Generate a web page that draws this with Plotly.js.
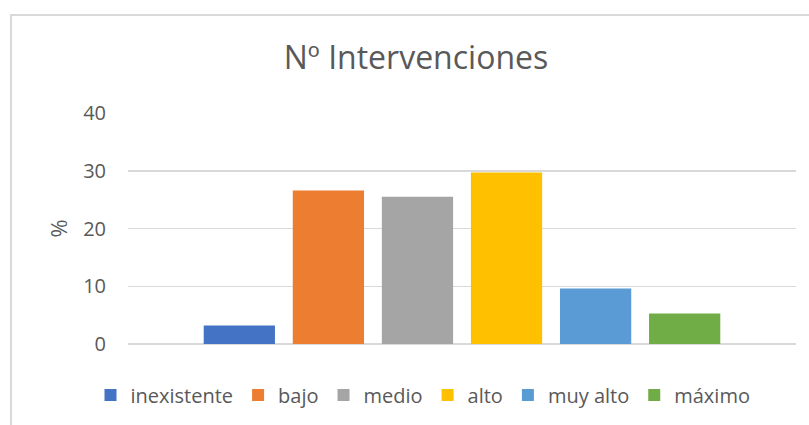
<!DOCTYPE html>
<html>
<head>
<meta charset="utf-8">
<script src="https://cdn.plot.ly/plotly-3.0.1.min.js"></script>
<style>
  html, body { margin: 0; padding: 0; background: #ffffff; }
  #frame { position: absolute; left: 10px; top: 14px; width: 900px; height: 500px; border: 2px solid #d9d9d9; box-sizing: border-box; }
  #chart { position: absolute; left: 0; top: 0; width: 809px; height: 425px; }
</style>
</head>
<body>
<div id="frame"></div>
<div id="chart"></div>
<script>
const categoryLabel = 'Nº Intervenciones';
const seriesNames = ['inexistente', 'bajo', 'medio', 'alto', 'muy alto', 'máximo'];
const seriesValues = [3.2, 26.6, 25.5, 29.7, 9.6, 5.3];
const seriesColors = ['#4472C4', '#ED7D31', '#A5A5A5', '#FFC000', '#5B9BD5', '#70AD47'];
const yTickValues = [0, 10, 20, 30, 40];

const FONT = '"Open Sans", "DejaVu Sans", sans-serif';
const TEXT = '#595959';

const traces = seriesNames.map((name, i) => ({
  type: 'bar',
  name: name,
  x: [categoryLabel],
  y: [seriesValues[i]],
  marker: { color: seriesColors[i], line: { width: 0 } },
  hoverinfo: 'name+y'
}));

const layout = {
  width: 809,
  height: 425,
  margin: { l: 128, r: 13, t: 113, b: 81 },
  paper_bgcolor: 'rgba(0,0,0,0)',
  plot_bgcolor: 'rgba(0,0,0,0)',
  font: { family: FONT, color: TEXT },
  title: {
    text: 'Nº Intervenciones',
    font: { family: FONT, size: 32, color: TEXT },
    x: 416 / 809, xref: 'container', xanchor: 'center',
    y: 1 - 58 / 425, yref: 'container', yanchor: 'middle'
  },
  barmode: 'group',
  bargap: 0.2,
  bargroupgap: 0.2,
  showlegend: true,
  legend: {
    orientation: 'h',
    xref: 'container', yref: 'container',
    x: 423 / 809, xanchor: 'center',
    y: 1 - 395 / 425, yanchor: 'middle',
    font: { family: FONT, size: 20, color: TEXT },
    itemwidth: 30,
    traceorder: 'normal'
  },
  xaxis: {
    type: 'category',
    showticklabels: false,
    showgrid: false,
    zeroline: false,
    showline: false,
    ticks: ''
  },
  yaxis: {
    range: [0, 40],
    tickvals: yTickValues,
    ticktext: yTickValues.map(String),
    showgrid: true,
    gridcolor: '#D9D9D9',
    gridwidth: 1.5,
    zeroline: true,
    zerolinecolor: '#D9D9D9',
    zerolinewidth: 1.5,
    showline: false,
    ticks: 'outside',
    ticklen: 17,
    tickcolor: 'rgba(0,0,0,0)',
    tickfont: { family: FONT, size: 20, color: TEXT },
    title: { text: '%', font: { family: FONT, size: 22, color: TEXT }, standoff: 9 }
  }
};

Plotly.newPlot('chart', traces, layout, { displayModeBar: false, staticPlot: true });
</script>
</body>
</html>
